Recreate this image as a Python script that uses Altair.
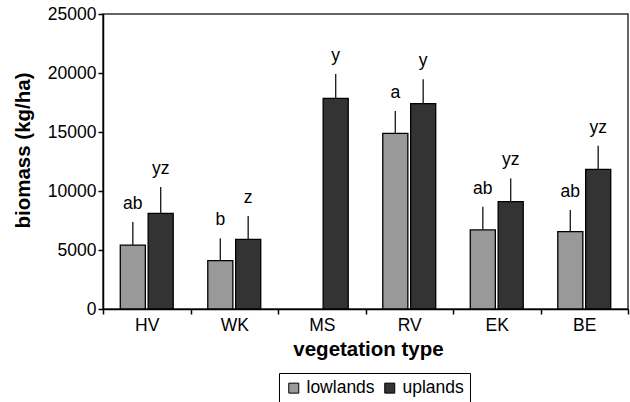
import altair as alt
import pandas as pd

categories = ["HV", "WK", "MS", "RV", "EK", "BE"]
series = ["lowlands", "uplands"]
lowlands = [5420, 4100, None, 14880, 6700, 6550]
lowlands_err = [7370, 5990, None, 16780, 8670, 8390]
lowlands_letters = ["ab", "b", "", "a", "ab", "ab"]
uplands = [8100, 5900, 17850, 17400, 9100, 11840]
uplands_err = [10340, 7880, 19920, 19460, 11070, 13840]
uplands_letters = ["yz", "z", "y", "y", "yz", "yz"]
y_ticks = [0, 5000, 10000, 15000, 20000, 25000]

rows = []
for i, c in enumerate(categories):
    if lowlands[i] is not None:
        rows.append({"veg": c, "series": "lowlands", "value": lowlands[i],
                     "upper": lowlands_err[i], "letter": lowlands_letters[i]})
    rows.append({"veg": c, "series": "uplands", "value": uplands[i],
                 "upper": uplands_err[i], "letter": uplands_letters[i]})
df = pd.DataFrame(rows)

FONT = "Liberation Sans"

x = alt.X("veg:N", sort=categories,
          scale=alt.Scale(paddingInner=0, paddingOuter=0),
          axis=alt.Axis(title="vegetation type", tickBand="extent", labelAngle=0,
                        tickSize=5, tickColor="black", tickWidth=1.5,
                        domainColor="black", domainWidth=1.5,
                        labelFontSize=17.5, labelColor="black", labelFont=FONT,
                        labelPadding=2,
                        titleFontSize=20.5, titleFont=FONT, titleFontWeight="bold",
                        titleColor="black", titleX=265, titleY=46,
                        titleBaseline="alphabetic"))
xo = alt.XOffset("series:N", sort=series,
                 scale=alt.Scale(paddingInner=0.1, paddingOuter=0.62))
y = alt.Y("value:Q", scale=alt.Scale(domain=[0, 25000], nice=False),
          axis=alt.Axis(title="biomass (kg/ha)", values=y_ticks, grid=False,
                        format="d",
                        tickSize=5, tickColor="black", tickWidth=1.5,
                        domainColor="black", domainWidth=1.5,
                        labelFontSize=17.5, labelColor="black", labelFont=FONT,
                        labelPadding=2,
                        titleFontSize=20.5, titleFont=FONT, titleFontWeight="bold",
                        titleColor="black", titleX=-74, titleY=136,
                        titleAngle=-90, titleBaseline="alphabetic"))
color = alt.Color("series:N", sort=series,
                  scale=alt.Scale(domain=series, range=["#999999", "#333333"]),
                  legend=alt.Legend(title=None, orient="none", direction="horizontal",
                                    legendX=176, legendY=359,
                                    strokeColor="black", padding=6,
                                    symbolType="square", symbolSize=100,
                                    symbolStrokeColor="black", symbolStrokeWidth=1,
                                    labelFontSize=17.5, labelFont=FONT,
                                    labelColor="black", labelOffset=4,
                                    columnPadding=6))

base = alt.Chart(df)
bars = base.mark_bar(stroke="black", strokeWidth=1.3).encode(
    x=x, xOffset=xo, y=y, color=color)
errs = base.mark_rule(color="#222222", strokeWidth=1.4).encode(
    x=x, xOffset=xo, y="value:Q", y2="upper:Q")
texts = base.mark_text(baseline="alphabetic", dy=-13, fontSize=17.5,
                       font=FONT, color="black").encode(
    x=x, xOffset=xo, y="upper:Q", text="letter:N")

chart = alt.layer(bars, errs, texts).properties(
    width=525, height=295,
    autosize=alt.AutoSizeParams(type="none"),
    padding={"left": 103, "top": 14, "right": 2, "bottom": 93},
    background="white",
).configure_view(stroke="#333333", strokeWidth=1.5)

chart.save("out.html", embed_options={"renderer": "svg", "actions": False})
